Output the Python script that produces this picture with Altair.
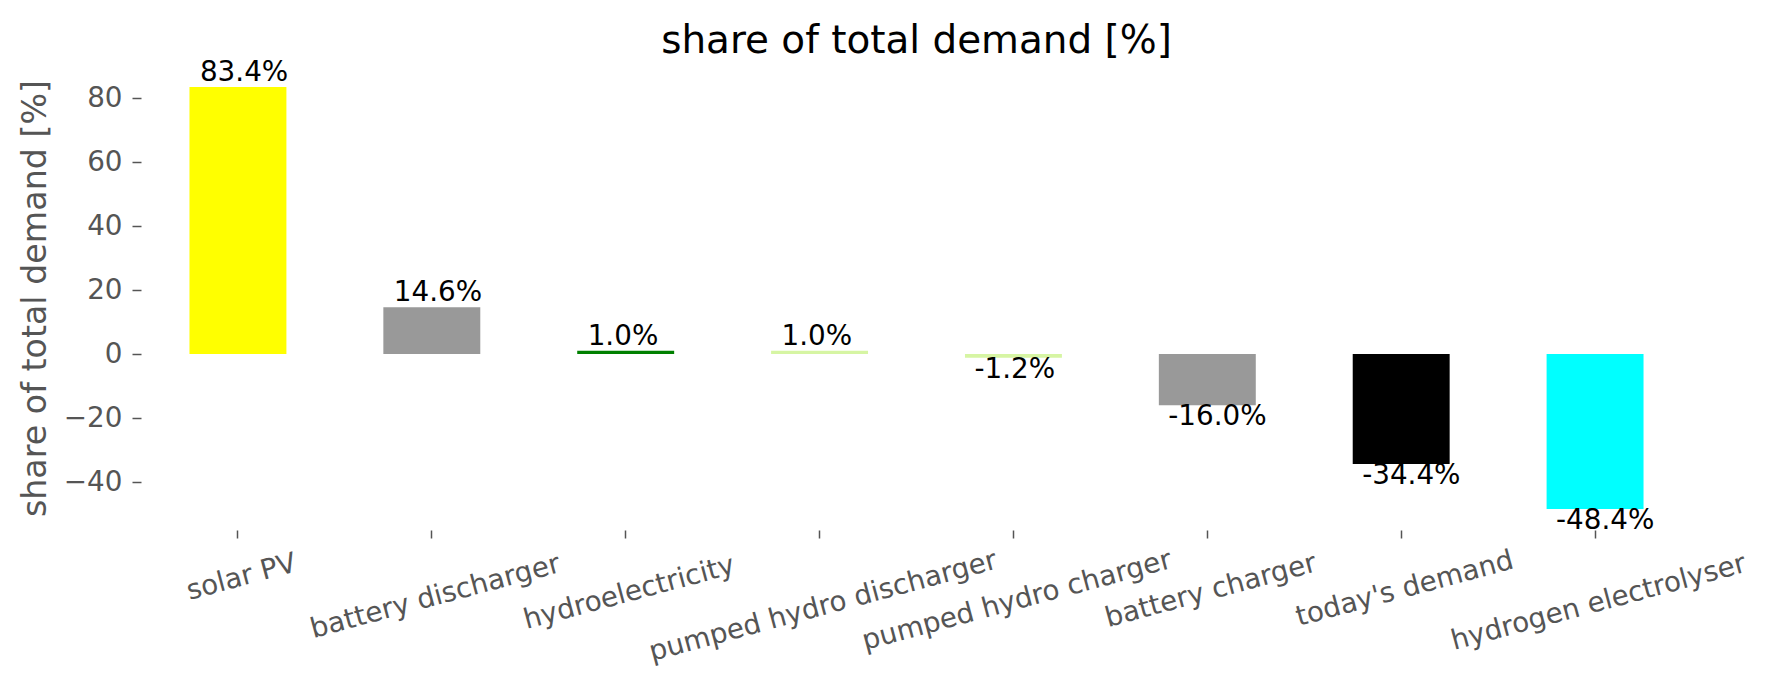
import altair as alt
import pandas as pd

categories = ["solar PV", "battery discharger", "hydroelectricity", "pumped hydro discharger",
              "pumped hydro charger", "battery charger", "today's demand", "hydrogen electrolyser"]
shares = [83.4, 14.6, 1.0, 1.0, -1.2, -16.0, -34.4, -48.4]
bar_colors = ["#ffff00", "#999999", "#008000", "#d6f5a3", "#d6f5a3", "#999999", "#000000", "#00ffff"]
y_ticks = [-40, -20, 0, 20, 40, 60, 80]

df = pd.DataFrame({"category": categories, "share": shares, "color": bar_colors})

FONT = "DejaVu Sans"
GREY = "#555555"

x_enc = alt.X(
    "category:N", sort=categories,
    scale=alt.Scale(paddingInner=0.5, paddingOuter=0.25),
    axis=alt.Axis(
        title=None, domain=False, grid=False,
        tickSize=8, tickColor=GREY, tickWidth=1.5,
        labelAngle=345, labelAlign="center", labelBaseline="top",
        labelFontSize=27.8, labelColor=GREY, labelFont=FONT,
        labelLimit=0, labelOverlap=False, labelFlush=False,
        labelPadding={"condition": {"test": "datum.value == null", "value": 10},
                      "expr": "10 + 1.95*length(datum.label)"},
    ),
)
y_enc = alt.Y(
    "share:Q",
    scale=alt.Scale(domain=[-55, 90], nice=False, zero=False),
    axis=alt.Axis(
        values=y_ticks, format="d", domain=False, grid=False,
        tickSize=9, tickColor=GREY, tickWidth=1.5,
        labelFontSize=27.8, labelColor=GREY, labelFont=FONT, labelPadding=10,
        title="share of total demand [%]", titleFontSize=33.3, titleColor=GREY,
        titleFont=FONT, titleFontWeight="normal", titlePadding=11,
    ),
)

base = alt.Chart(df)

bars = base.mark_bar().encode(
    x=x_enc, y=y_enc, y2=alt.datum(0),
    color=alt.Color("color:N", scale=None),
)

label_calc = "(datum.share < 0 ? '-' : '') + format(abs(datum.share), '.1f') + '%'"

pos_labels = base.transform_filter("datum.share >= 0").transform_calculate(
    lab=label_calc
).mark_text(
    baseline="bottom", align="left", dx=-38, dy=0,
    fontSize=27.8, font=FONT, color="black",
).encode(x=alt.X("category:N", sort=categories), y="share:Q", text="lab:N")

neg_labels = base.transform_filter("datum.share < 0").transform_calculate(
    lab=label_calc
).mark_text(
    baseline="top", align="left", dx=-39, dy=-2,
    fontSize=27.8, font=FONT, color="black",
).encode(x=alt.X("category:N", sort=categories), y="share:Q", text="lab:N")

chart = alt.layer(bars, pos_labels, neg_labels).properties(
    width=1551, height=464,
    autosize=alt.AutoSizeParams(type="none"),
    padding={"left": 133, "top": 58, "right": 60, "bottom": 140},
    title=alt.TitleParams(
        "share of total demand [%]", fontSize=38.9, font=FONT,
        fontWeight="normal", color="black", offset=-2,
    ),
).configure_view(stroke=None)

chart.save("out.html", embed_options={"renderer": "svg", "actions": False})
